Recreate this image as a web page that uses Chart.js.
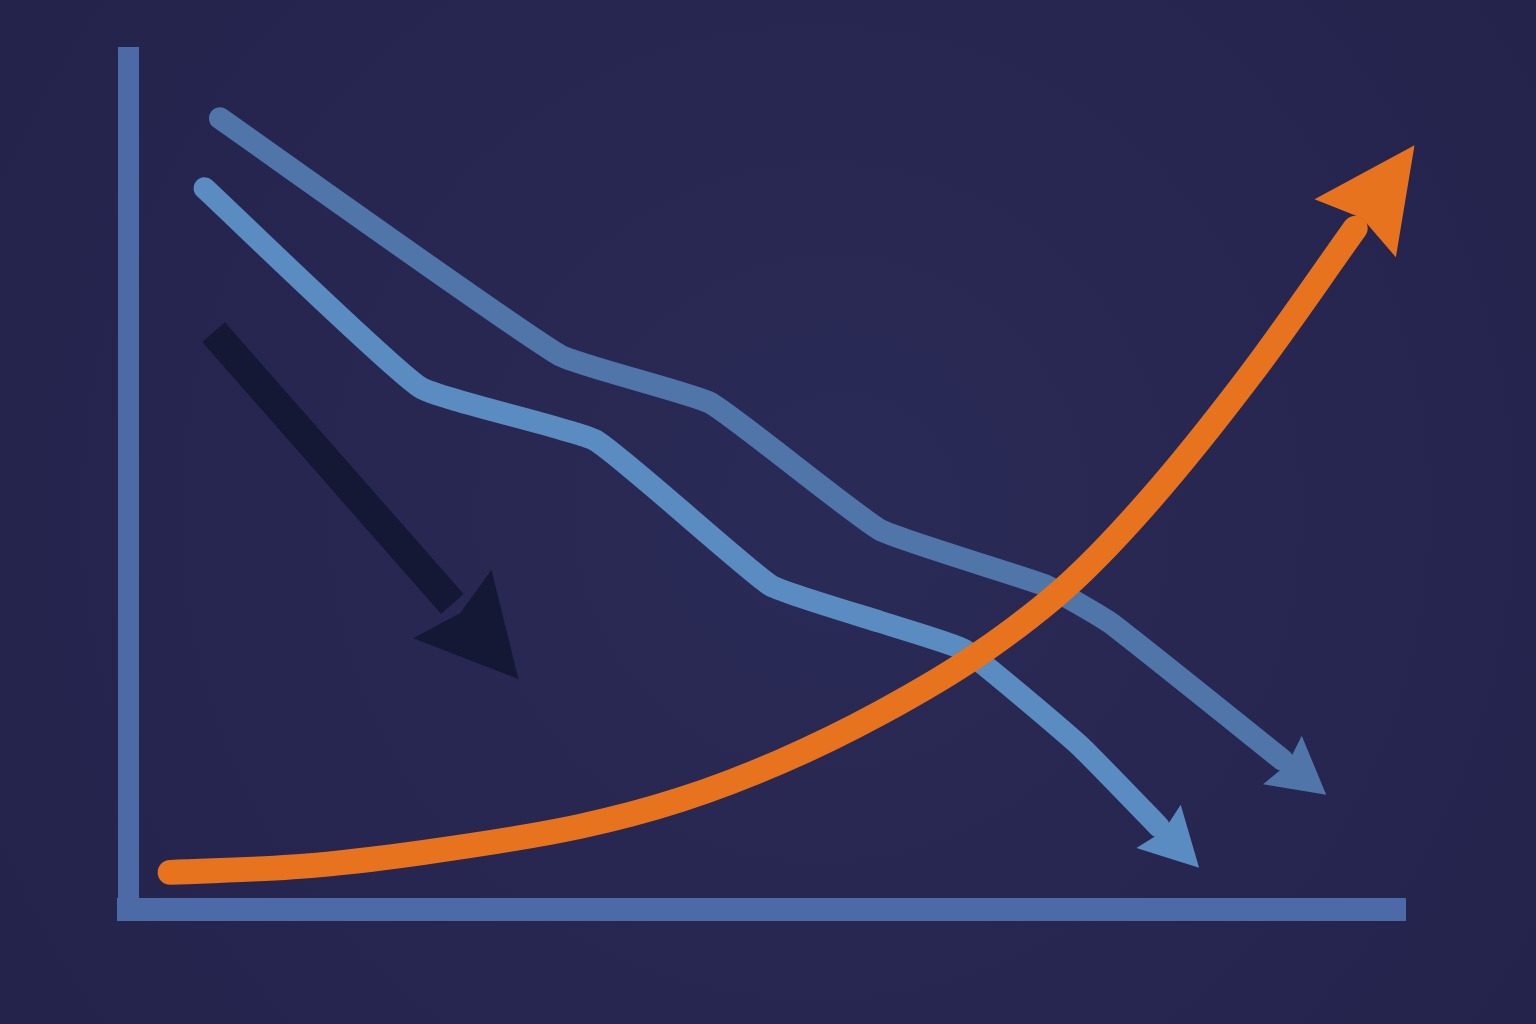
<!DOCTYPE html>
<html>
<head>
<meta charset="utf-8">
<script src="https://cdn.jsdelivr.net/npm/chart.js@4.4.1/dist/chart.umd.min.js"></script>
<style>
    html, body { margin: 0; padding: 0; background: #25264f; }
    #wrap { width: 1536px; height: 1024px; position: relative; }
</style>
</head>
<body>
<div id="wrap"><canvas id="trend"></canvas></div>
<script>
// values on a 0..100 grid
const risingX = [3.3, 13.5, 22.9, 35.4, 43.2, 51.1, 58.9, 66.7, 73.8, 80.0, 87.9, 96.1];
const risingY = [4.3, 5.0, 6.6, 9.7, 12.8, 17.3, 23.0, 30.0, 38.3, 48.0, 62.7, 79.9];

const upperX = [7.2, 33.8, 45.6, 58.9, 71.8, 76.9, 90.4];
const upperY = [92.8, 65.0, 59.4, 44.5, 38.0, 33.6, 17.5];

const lowerX = [6.0, 22.9, 36.6, 50.3, 58.9, 65.5, 74.5, 80.7];
const lowerY = [84.6, 61.2, 55.0, 38.0, 33.7, 30.4, 19.2, 9.7];

const pointerX = [6.7, 25.4];
const pointerY = [67.7, 35.8];

const toPoints = (xs, ys) => xs.map((x, i) => ({ x: x, y: ys[i] }));

// page backdrop, slightly lighter in the middle
const backdrop = {
    id: 'backdrop',
    beforeDraw(chart) {
        const { ctx, width, height } = chart;
        const g = ctx.createRadialGradient(width * 0.55, height * 0.5, 50, width * 0.5, height * 0.5, width * 0.75);
        g.addColorStop(0, '#2a2a56');
        g.addColorStop(1, '#212149');
        ctx.save();
        ctx.fillStyle = g;
        ctx.fillRect(0, 0, width, height);
        ctx.restore();
    }
};

// notched arrow head on the last point of a dataset
const arrowHeads = {
    id: 'arrowHeads',
    afterDatasetsDraw(chart) {
        const ctx = chart.ctx;
        chart.data.datasets.forEach((ds, i) => {
            if (!ds.arrow) return;
            const pts = chart.getDatasetMeta(i).data;
            const a = pts[pts.length - 2], b = pts[pts.length - 1];
            let dx = b.x - a.x, dy = b.y - a.y;
            const len = Math.hypot(dx, dy);
            dx /= len; dy /= len;
            const L = ds.arrow.length, W = ds.arrow.half;
            ctx.save();
            ctx.fillStyle = ds.borderColor;
            ctx.beginPath();
            ctx.moveTo(b.x + dx * L, b.y + dy * L);
            ctx.lineTo(b.x - dy * W, b.y + dx * W);
            ctx.lineTo(b.x + dx * L * 0.12, b.y + dy * L * 0.12);
            ctx.lineTo(b.x + dy * W, b.y - dx * W);
            ctx.closePath();
            ctx.fill();
            ctx.restore();
        });
    }
};

const axisColor = '#4b6aa6';

new Chart(document.getElementById('trend'), {
    type: 'line',
    data: {
        datasets: [
            {
                data: toPoints(risingX, risingY),
                borderColor: '#e8731e',
                borderWidth: 25,
                borderCapStyle: 'round',
                cubicInterpolationMode: 'monotone',
                arrow: { length: 102, half: 50 }
            },
            {
                data: toPoints(upperX, upperY),
                borderColor: '#4f75a9',
                borderWidth: 22,
                borderCapStyle: 'round',
                borderJoinStyle: 'round',
                tension: 0.12,
                arrow: { length: 56, half: 31 }
            },
            {
                data: toPoints(lowerX, lowerY),
                borderColor: '#5b8cc1',
                borderWidth: 22,
                borderCapStyle: 'round',
                borderJoinStyle: 'round',
                tension: 0.12,
                arrow: { length: 58, half: 31 }
            },
            {
                data: toPoints(pointerX, pointerY),
                borderColor: '#141834',
                borderWidth: 30,
                borderCapStyle: 'butt',
                arrow: { length: 100, half: 52 }
            }
        ]
    },
    options: {
        responsive: true,
        maintainAspectRatio: false,
        animation: false,
        events: [],
        layout: {
            autoPadding: false,
            padding: { left: 128, top: 57, right: 131, bottom: 115 }
        },
        elements: {
            point: { radius: 0, hoverRadius: 0 },
            line: { fill: false }
        },
        datasets: { line: { clip: false } },
        plugins: {
            legend: { display: false },
            tooltip: { enabled: false }
        },
        scales: {
            x: {
                type: 'linear',
                min: 0,
                max: 100,
                ticks: { display: false },
                grid: { display: false, drawTicks: false },
                border: { color: axisColor, width: 23 }
            },
            y: {
                type: 'linear',
                min: 0,
                max: 100,
                ticks: { display: false },
                grid: { display: false, drawTicks: false },
                border: { color: axisColor, width: 21 }
            }
        }
    },
    plugins: [backdrop, arrowHeads]
});
</script>
</body>
</html>
